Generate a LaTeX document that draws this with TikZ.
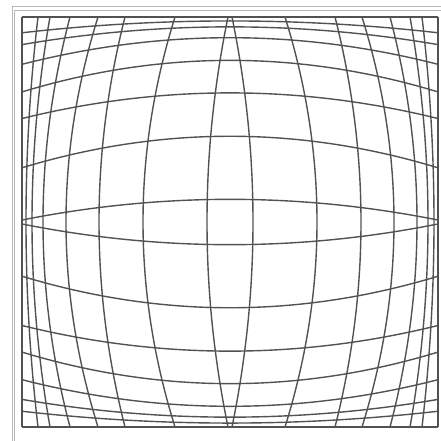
\documentclass[tikz,border=0pt]{standalone}
\usepackage{tikz}

\tikzset{
  gridline/.style={black!68, line width=1.4pt},
  framerule/.style={gray!55, line width=0.8pt}
}

\begin{document}
\begin{tikzpicture}[x=1pt,y=-1pt]
  \useasboundingbox (0,0) rectangle (441,440);
  \clip (0,0) rectangle (441,440);
  % frame
  \draw[framerule] (12,445) -- (12,6) -- (445,6);
  \draw[framerule] (14.5,445) -- (14.5,10) -- (445,10);
  % barrel grid: offset on the centre line / offset at the edge
  \foreach \cc/\ee in {23/2,87/55,131/105,164/132,187/160,198/180,204/192,208/208}{
    \foreach \sg in {-1,1}{
      \draw[gridline] plot[domain=-1:1,samples=41,smooth]
        ({230+\sg*(\ee+(\cc-\ee)*(1-(\x)*(\x)))},{222+205*\x});
      \draw[gridline] plot[domain=-1:1,samples=41,smooth]
        ({230+208*\x},{222+\sg*205/208*(\ee+(\cc-\ee)*(1-(\x)*(\x)))});
    }
  }
\end{tikzpicture}
\end{document}
